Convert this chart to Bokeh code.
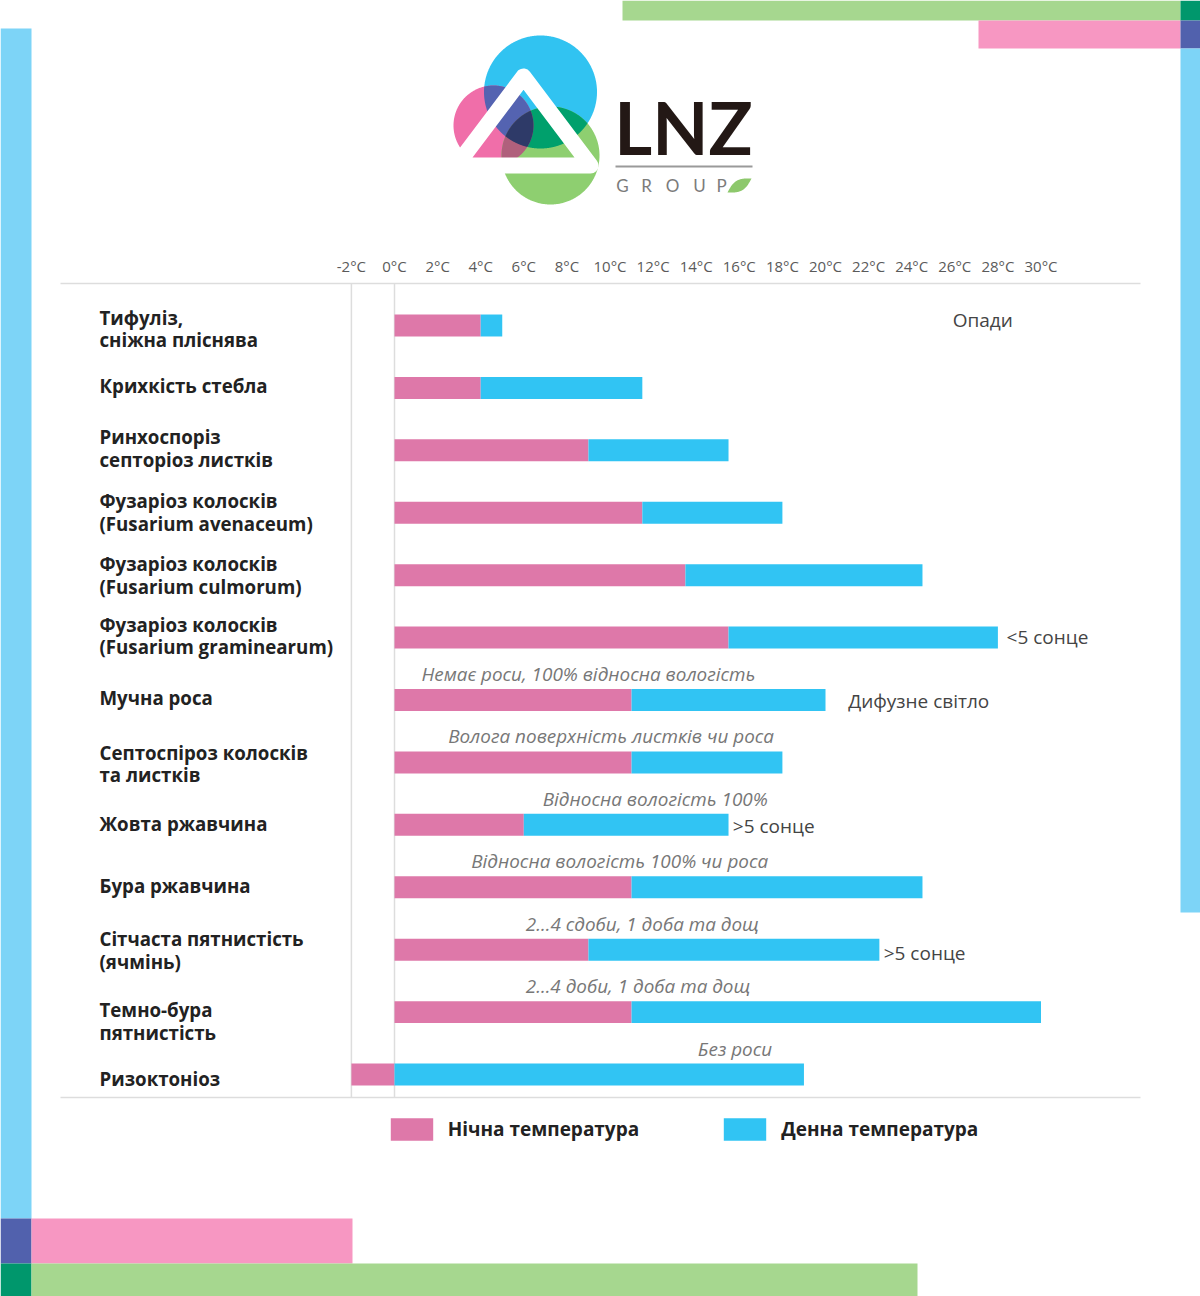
import numpy as np
from bokeh.plotting import figure
from bokeh.models import Range1d, Legend, LegendItem, ColumnDataSource
from bokeh.embed import file_html
from bokeh.resources import INLINE
from bokeh.core.properties import value

# ---------------- data ----------------
diseases = [
    "Тифуліз,\nсніжна пліснява",
    "Крихкість стебла",
    "Ринхоспоріз\nсепторіоз листків",
    "Фузаріоз колосків\n(Fusarium avenaceum)",
    "Фузаріоз колосків\n(Fusarium culmorum)",
    "Фузаріоз колосків\n(Fusarium graminearum)",
    "Мучна роса",
    "Септоспіроз колосків\nта листків",
    "Жовта ржавчина",
    "Бура ржавчина",
    "Сітчаста пятнистість\n(ячмінь)",
    "Темно-бура\nпятнистість",
    "Ризоктоніоз",
]
night_low = [0, 0, 0, 0, 0, 0, 0, 0, 0, 0, 0, 0, -2]
night_high = [4, 4, 9, 11.5, 13.5, 15.5, 11, 11, 6, 11, 9, 11, 0]
day_high = [5, 11.5, 15.5, 18, 24.5, 28, 20, 18, 15.5, 24.5, 22.5, 30, 19]

tick_values = [-2, 0, 2, 4, 6, 8, 10, 12, 14, 16, 18, 20, 22, 24, 26, 28, 30]
tick_labels = ["-2°C", "0°C", "2°C", "4°C", "6°C", "8°C", "10°C", "12°C", "14°C",
               "16°C", "18°C", "20°C", "22°C", "24°C", "26°C", "28°C", "30°C"]

# italic notes above bars (row, temperature at text centre)
note_rows = [6, 7, 8, 9, 10, 11, 12]
note_x = [9.0, 10.05, 12.1, 10.45, 11.5, 11.3, 15.8]
note_text = [
    "Немає роси, 100% відносна вологість",
    "Волога поверхність листків чи роса",
    "Відносна вологість 100%",
    "Відносна вологість 100% чи роса",
    "2...4 сдоби, 1 доба та дощ",
    "2...4 доби, 1 доба та дощ",
    "Без роси",
]
# conditions to the right of bars (row, temperature at text start)
cond_rows = [0, 5, 6, 8, 10]
cond_x = [25.9, 28.4, 21.05, 15.7, 22.7]
cond_text = ["Опади", "<5 сонце", "Дифузне світло", ">5 сонце", ">5 сонце"]

NIGHT = "#de78a9"
DAY = "#31c4f3"

# ---------------- figure (page pixel coordinates) ----------------
W, H = 1200, 1296
p = figure(width=W, height=H, x_range=Range1d(0, W), y_range=Range1d(H, 0),
           x_axis_location=None, y_axis_location=None, toolbar_location=None,
           output_backend="svg", min_border=0)
p.outline_line_color = None
p.xgrid.visible = False
p.ygrid.visible = False
p.background_fill_color = "white"
p.border_fill_color = "white"

PXC = 21.55      # pixels per °C
ZERO = 394       # page x of 0 °C
ROW0, ROWS = 325, 62.42
p.extra_x_ranges = {"temp": Range1d((0 - ZERO) / PXC, (W - ZERO) / PXC)}
p.extra_y_ranges = {"rows": Range1d((H - ROW0) / ROWS, (0 - ROW0) / ROWS)}

# ---------------- frame decoration ----------------
deco = dict(
    left=[622, 978, 1180, 1180, 1180, 0, 0, 0, 31, 31],
    right=[1180, 1180, 1200, 1200, 1200, 31, 31, 31, 352, 917],
    top=[0, 20, 0, 20, 48, 28, 1218, 1263, 1218, 1263],
    bottom=[20, 48, 20, 48, 912, 1218, 1263, 1296, 1263, 1296],
    color=["#a6d78f", "#f797c2", "#00976c", "#5161ad", "#7dd4f7",
           "#7dd4f7", "#5161ad", "#00976c", "#f797c2", "#a6d78f"],
)
p.quad(left="left", right="right", top="top", bottom="bottom", color="color",
       source=ColumnDataSource(deco), line_width=0)

# ---------------- logo ----------------
def circ(cx, cy, r, n=400):
    t = np.linspace(0, 2 * np.pi, n, endpoint=False)
    return cx + r * np.cos(t), cy + r * np.sin(t)

def region(circs, n=1440):
    pts = []
    for i, (cx, cy, r) in enumerate(circs):
        t = np.linspace(0, 2 * np.pi, n, endpoint=False)
        x = cx + r * np.cos(t)
        y = cy + r * np.sin(t)
        ok = np.ones(n, bool)
        for j, (cx2, cy2, r2) in enumerate(circs):
            if j != i:
                ok &= (x - cx2) ** 2 + (y - cy2) ** 2 <= r2 ** 2 + 1e-6
        pts.append(np.c_[x[ok], y[ok]])
    P = np.vstack(pts)
    c = P.mean(0)
    o = np.argsort(np.arctan2(P[:, 1] - c[1], P[:, 0] - c[0]))
    return list(P[o, 0]), list(P[o, 1])

C_CY = (540, 91.5, 56.5)
C_PK = (493, 125, 40)
C_GR = (550, 155, 49)
shapes = []
for c, col in [(C_CY, "#31c3f1"), (C_PK, "#f06ea9"), (C_GR, "#8ecf70")]:
    x, y = circ(*c)
    shapes.append((list(x), list(y), col))
for cs, col in [((C_PK, C_CY), "#5463b1"), ((C_CY, C_GR), "#00a06c"),
                ((C_PK, C_GR), "#b0607c"), ((C_PK, C_CY, C_GR), "#2e3a68")]:
    x, y = region(list(cs))
    shapes.append((x, y, col))
p.patches(xs=[s[0] for s in shapes], ys=[s[1] for s in shapes],
          color=[s[2] for s in shapes], line_width=0)
p.patch(x=[523, 456, 590], y=[76, 165, 165], fill_alpha=0, line_color="white",
        line_width=16, line_join="round")

p.text(x=[683], y=[126], text=["LNZ"], text_font=value("Lato"), text_font_style="bold",
       text_font_size="73px", text_color="#231815", text_align="center",
       text_baseline="alphabetic")
p.segment(x0=[615], y0=[166], x1=[752], y1=[166], line_color="#9a9a9a", line_width=2)
p.text(x=[622, 646, 672, 699, 721], y=[185] * 5, text=list("GROUP"),
       text_font=value("Lato"), text_font_size="17px", text_color="#7b7b7b",
       text_align="center", text_baseline="alphabetic")
tt = np.linspace(0, 1, 40)
ax, ay, bx, by = 727, 192, 751, 178
dx, dy = bx - ax, by - ay
L = np.hypot(dx, dy)
nx, ny = -dy / L, dx / L
wv = 5.5 * np.sin(np.pi * tt)
lx = np.r_[ax + dx * tt + nx * wv, (ax + dx * tt - nx * wv)[::-1]]
ly = np.r_[ay + dy * tt + ny * wv, (ay + dy * tt - ny * wv)[::-1]]
p.patch(x=list(lx), y=list(ly), color="#8dc86c", line_width=0)

# ---------------- chart ----------------
p.segment(x0=[60, 60], x1=[1140, 1140], y0=[283, 1097], y1=[283, 1097],
          line_color="#dddddd", line_width=1.5)
p.segment(x0=[-2, 0], x1=[-2, 0], y0=[283, 283], y1=[1097, 1097],
          line_color="#dddddd", line_width=1.5, x_range_name="temp")

p.text(x=tick_values, y=[265] * len(tick_values), text=tick_labels, x_range_name="temp",
       text_font=value("Open Sans"), text_font_size="15px", text_color="#5a5a5a",
       text_align="center", text_baseline="middle")

rows = list(range(len(diseases)))
src = ColumnDataSource(dict(row=rows, nlow=night_low, nhigh=night_high, dhigh=day_high))
r_night = p.hbar(y="row", left="nlow", right="nhigh", height=0.352, source=src,
                 color=NIGHT, line_width=0, x_range_name="temp", y_range_name="rows")
r_day = p.hbar(y="row", left="nhigh", right="dhigh", height=0.352, source=src,
               color=DAY, line_width=0, x_range_name="temp", y_range_name="rows")

label_off = [3, -2, -2, -1, 0, -2, -3, 1, -1, -2, 0, 9, 4]
p.text(x=[99] * len(diseases), y=rows, text=diseases, y_range_name="rows",
       text_font=value("Open Sans"), text_font_style="bold", text_font_size="18.7px",
       text_color="#222222", text_align="left", text_baseline="middle",
       text_line_height=0.91, y_offset=label_off)

p.text(x=note_x, y=note_rows, text=note_text, x_range_name="temp", y_range_name="rows",
       text_font=value("Open Sans"), text_font_style="italic", text_font_size="18.9px",
       text_color="#777777", text_align="center", text_baseline="middle", y_offset=-26)

cond_off = [-6, -1, 1, 1, 3]
p.text(x=cond_x, y=cond_rows, text=cond_text, x_range_name="temp", y_range_name="rows",
       text_font=value("Open Sans"), text_font_size="19px", text_color="#444444",
       text_align="left", text_baseline="middle", y_offset=cond_off)

legend = Legend(items=[LegendItem(label="Нічна температура", renderers=[r_night]),
                       LegendItem(label="Денна температура", renderers=[r_day])],
                orientation="horizontal", location=(384.7, 153.2),
                glyph_width=53, glyph_height=28, label_standoff=10, spacing=79,
                padding=0, margin=0, border_line_color=None, background_fill_alpha=0,
                label_text_font="Open Sans", label_text_font_style="bold",
                label_text_font_size="19px", label_text_color="#222222",
                label_text_baseline="middle")
p.add_layout(legend)

open("out.html", "w").write(file_html(p, INLINE))
